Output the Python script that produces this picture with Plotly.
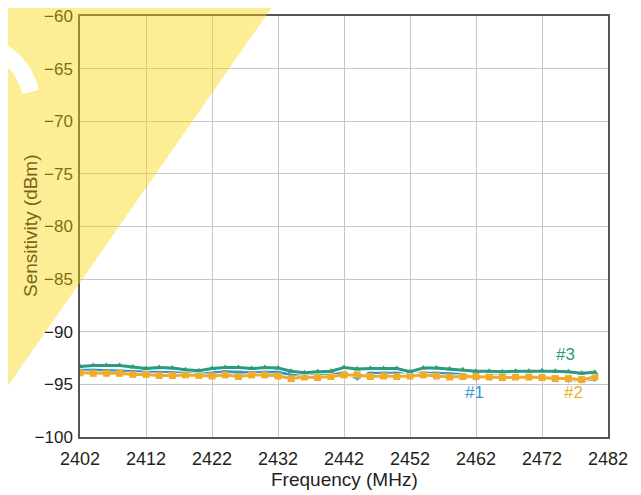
import plotly.graph_objects as go

freq = list(range(2402, 2481, 2))

s1 = [-93.6, -93.65, -93.7, -93.75, -93.8, -93.85, -93.9, -93.9, -93.9, -93.95,
      -93.9, -93.8, -93.85, -93.9, -93.85, -93.85, -94.05, -94.05, -94.1, -94.05,
      -93.95, -94.4, -93.95, -93.95, -93.95, -94.1, -93.95, -93.95, -94.0, -94.05,
      -94.4, -94.15, -94.2, -94.25, -94.25, -94.3, -94.4, -94.6, -94.6, -94.5]
s2 = [-93.9, -93.95, -93.95, -93.95, -94.05, -94.05, -94.15, -94.15, -94.1, -94.15,
      -94.2, -94.1, -94.25, -94.1, -94.1, -94.2, -94.45, -94.3, -94.35, -94.25,
      -94.1, -94.1, -94.25, -94.2, -94.25, -94.2, -94.1, -94.2, -94.3, -94.25,
      -94.25, -94.3, -94.35, -94.3, -94.3, -94.35, -94.45, -94.45, -94.55, -94.3]
s3 = [-93.3, -93.2, -93.2, -93.2, -93.35, -93.5, -93.4, -93.45, -93.6, -93.7,
      -93.5, -93.4, -93.4, -93.5, -93.4, -93.45, -93.75, -93.9, -93.8, -93.75,
      -93.4, -93.55, -93.5, -93.5, -93.5, -93.8, -93.45, -93.45, -93.55, -93.6,
      -93.75, -93.75, -93.8, -93.75, -93.75, -93.7, -93.75, -93.8, -93.95, -93.85]

names = ["#1", "#2", "#3"]
colors = ["#2a9ad6", "#f0ab2a", "#2c9a80"]
symbols = ["triangle-down", "square", "triangle-up"]
label_x = [2461.7, 2476.8, 2475.6]
label_y = [-95.8, -95.8, -92.2]

x_ticks = list(range(2402, 2483, 10))
y_ticks = list(range(-100, -59, 5))
x_title = "Frequency (MHz)"
y_title = "Sensitivity (dBm)"

FONT = "Liberation Sans, Arial"
TXT = "#231f20"
TXT_TINTED = "rgb(118,102,22)"  # dark text seen through the yellow band

fig = go.Figure()
for vals, col, sym, nm in zip([s1, s2, s3], colors, symbols, names):
    fig.add_trace(go.Scatter(x=freq, y=vals, mode="lines", showlegend=False,
                             line=dict(color="white", width=4.5), hoverinfo="skip"))
    fig.add_trace(go.Scatter(x=freq, y=vals, mode="lines+markers", name=nm, showlegend=False,
                             line=dict(color=col, width=3),
                             marker=dict(symbol=sym, size=7 if sym == "square" else 6, color=col)))

for nm, col, lx, ly in zip(names, colors, label_x, label_y):
    fig.add_annotation(x=lx, y=ly, text=nm, showarrow=False,
                       font=dict(color=col, size=17, family=FONT))

# page body has an 8px margin; work in window pixels
OFF = 8
W, H = 641 - OFF, 495 - OFF
L, R, T, B = 80, 608, 16, 437  # plot area in window pixels

def px(x, y):
    return ((x - L) / (R - L), (B - y) / (B - T))

# axis titles placed as annotations
tx, ty = px(344, 480)
fig.add_annotation(x=tx, y=ty, xref="paper", yref="paper", text=x_title, showarrow=False,
                   xanchor="center", yanchor="middle",
                   font=dict(size=19, color=TXT, family=FONT))
tx, ty = px(30, 226)
fig.add_annotation(x=tx, y=ty, xref="paper", yref="paper", text=y_title, showarrow=False,
                   xanchor="center", yanchor="middle",
                   textangle=-90, font=dict(size=19, color=TXT_TINTED, family=FONT))

band = [(14, 0), (277, 0), (-20, 426), (-20, 5)]
pts = [px(a, b) for a, b in band]
path = "M " + " L ".join(f"{a:.4f},{b:.4f}" for a, b in pts) + " Z"
fig.add_shape(type="path", path=path, xref="paper", yref="paper", layer="above",
              fillcolor="rgba(250,212,0,0.42)", line=dict(width=0))

p0, p1, p2 = px(-2, 50), px(22, 61), px(31, 92)
arc = f"M {p0[0]:.4f},{p0[1]:.4f} Q {p1[0]:.4f},{p1[1]:.4f} {p2[0]:.4f},{p2[1]:.4f}"
fig.add_shape(type="path", path=arc, xref="paper", yref="paper", layer="above",
              line=dict(color="white", width=17))

axis_common = dict(showgrid=True, gridcolor="#c6c6c6", gridwidth=1.2,
                   showline=True, linecolor="#555555", linewidth=1.5, mirror=True,
                   ticks="", zeroline=False, ticklabeloverflow="allow")

fig.update_xaxes(range=[2402, 2482], tickvals=x_ticks, ticklabelstandoff=5,
                 tickfont=dict(size=18, color=TXT, family=FONT), **axis_common)
fig.update_yaxes(range=[-100, -60], tickvals=y_ticks, ticklabelstandoff=2,
                 tickfont=dict(size=17, color=TXT, family=FONT), **axis_common)

fig.update_layout(width=W, height=H,
                  margin=dict(l=L - OFF, r=641 - R, t=T - OFF, b=495 - B, autoexpand=False),
                  plot_bgcolor="white", paper_bgcolor="white")

fig.write_html("out.html")
